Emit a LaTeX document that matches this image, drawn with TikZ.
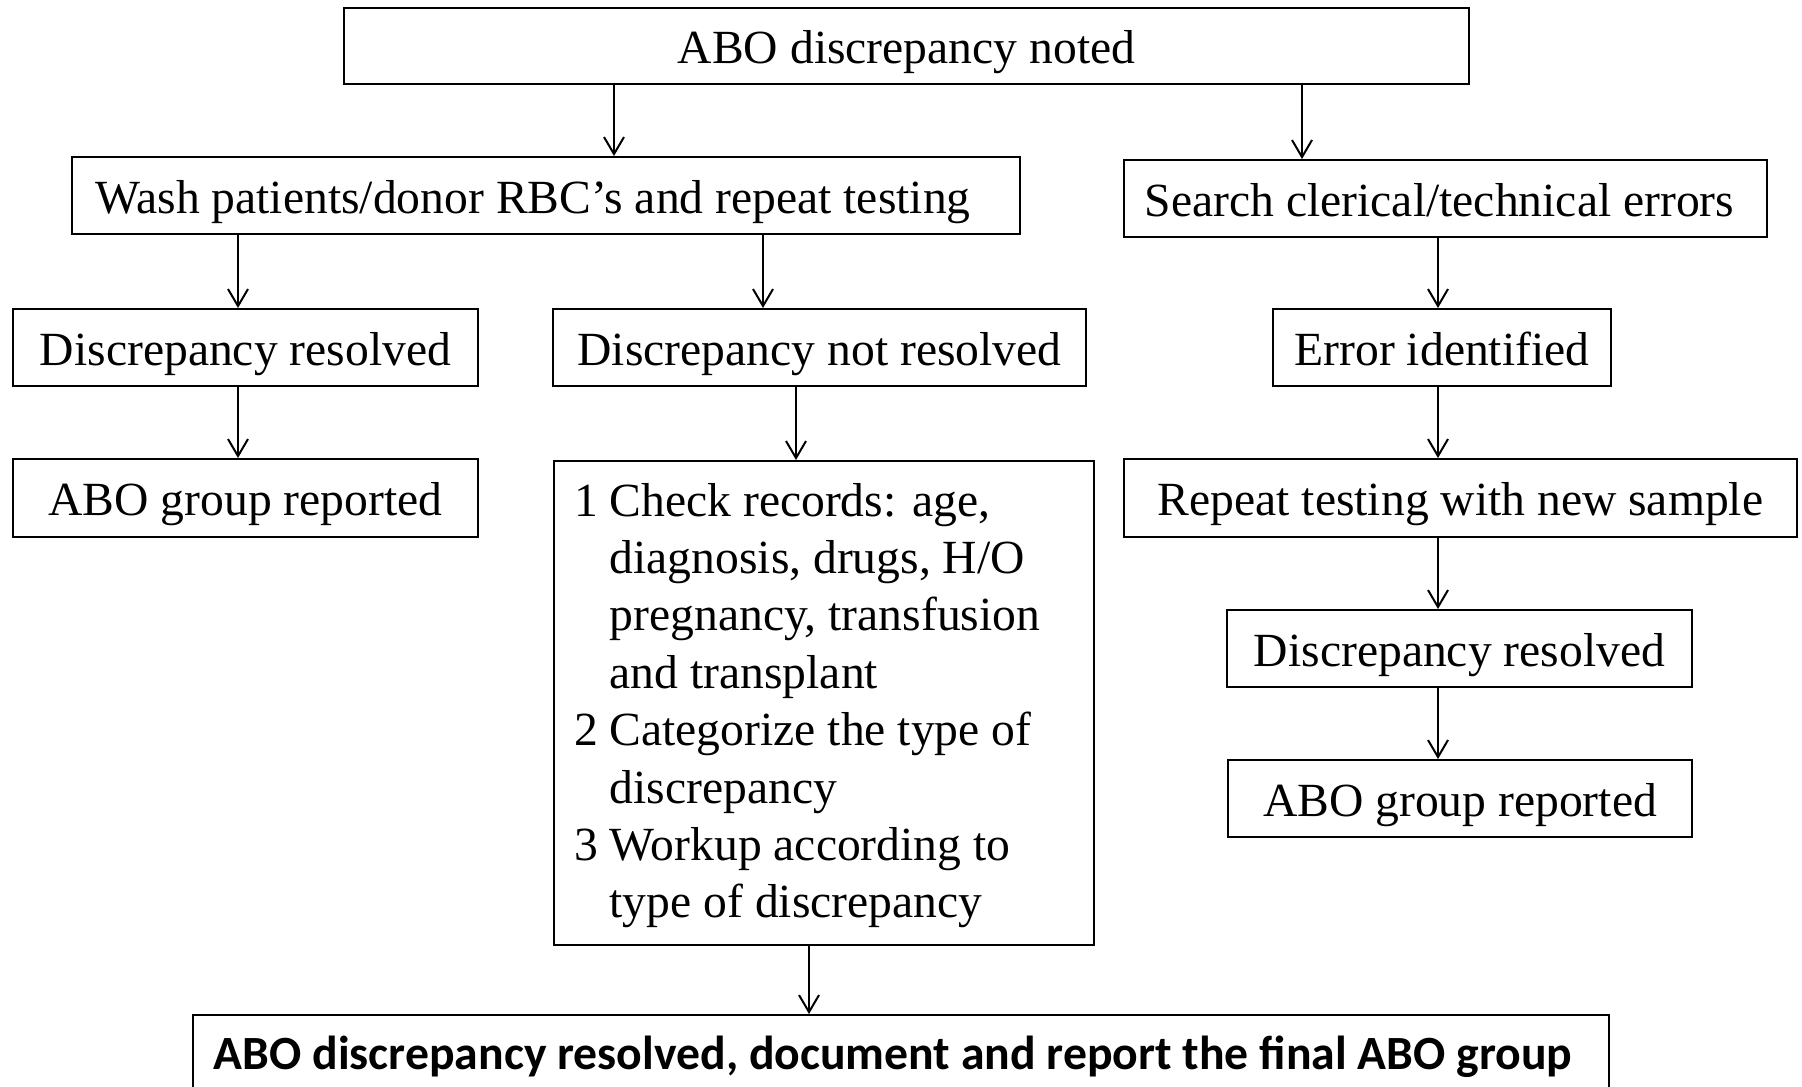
\documentclass[tikz,border=0pt]{standalone}
\usepackage{fontspec}
\setmainfont{Liberation Serif}
\newfontfamily\boldsans{Carlito}
\usetikzlibrary{arrows.meta}
\begin{document}
\begin{tikzpicture}[x=1pt,y=-1pt,
  box/.style={draw, line width=2pt, inner sep=0pt,
    font=\fontsize{47.6pt}{57.4pt}\selectfont,
    text height=43.8pt, text depth=8pt},
  arr/.style={line width=2pt, -{Straight Barb[length=17pt,width=20pt]}}
]
\useasboundingbox (0,0) rectangle (1802,1087);
\clip (0,0) rectangle (1802,1087);

\node[box, minimum width=1125pt, minimum height=76pt] (top) at (906.5,46) {ABO discrepancy noted};
\node[box, minimum width=948pt, minimum height=77pt] (wash) at (546,195.5) {\hspace*{-26pt}Wash patients/donor RBC’s and repeat testing};
\node[box, minimum width=643pt, minimum height=77pt] (search) at (1445.5,198.5) {\hspace*{-12pt}Search clerical/technical errors};
\node[box, minimum width=465pt, minimum height=77pt] (dresL) at (245.5,347.5) {Discrepancy resolved};
\node[box, minimum width=533pt, minimum height=77pt] (dnr) at (819.5,347.5) {Discrepancy not resolved};
\node[box, minimum width=338pt, minimum height=77pt] (err) at (1442,347.5) {Error identified};
\node[box, minimum width=465pt, minimum height=78pt] (aboL) at (245.5,498) {ABO group reported};
\node[box, minimum width=673pt, minimum height=78pt] (rep) at (1460.5,498) {Repeat testing with new sample};
\node[box, minimum width=465pt, minimum height=77pt] (dresR) at (1459.5,648.5) {Discrepancy resolved};
\node[box, minimum width=464pt, minimum height=77pt] (aboR) at (1460,798.5) {ABO group reported};

\node[draw, line width=2pt, inner sep=0pt, anchor=north west] (check) at (553,460)
 {\begin{minipage}[c][484pt][t]{540pt}\fontsize{47.6pt}{57.4pt}\selectfont
  \leftskip=20pt\relax
  \rule{0pt}{55pt}1 Check records: age,\\
  \hspace*{35.7pt}diagnosis, drugs, H/O\\
  \hspace*{35.7pt}pregnancy, transfusion\\
  \hspace*{35.7pt}and transplant\\
  2 Categorize the type of\\
  \hspace*{35.7pt}discrepancy\\
  3 Workup according to\\
  \hspace*{35.7pt}type of discrepancy
 \end{minipage}};

\node[draw, line width=2pt, anchor=north, inner xsep=0pt, inner ysep=19pt,
  minimum width=1416pt,
  font=\boldsans\bfseries\fontsize{47.7pt}{57pt}\selectfont,
  text height=35.8pt, text depth=12pt] (final) at (901,1014)
  {\hspace*{-16pt}ABO discrepancy resolved, document and report the final ABO group};

\draw[arr] (614,0 |- top.south) -- (614,0 |- wash.north);
\draw[arr] (1302,0 |- top.south) -- (1302,0 |- search.north);
\draw[arr] (238,0 |- wash.south) -- (238,0 |- dresL.north);
\draw[arr] (763,0 |- wash.south) -- (763,0 |- dnr.north);
\draw[arr] (1438,0 |- search.south) -- (1438,0 |- err.north);
\draw[arr] (238,0 |- dresL.south) -- (238,0 |- aboL.north);
\draw[arr] (796,0 |- dnr.south) -- (796,0 |- check.north);
\draw[arr] (1438,0 |- err.south) -- (1438,0 |- rep.north);
\draw[arr] (1438,0 |- rep.south) -- (1438,0 |- dresR.north);
\draw[arr] (1438,0 |- dresR.south) -- (1438,0 |- aboR.north);
\draw[arr] (809,0 |- check.south) -- (809,0 |- final.north);
\end{tikzpicture}
\end{document}
